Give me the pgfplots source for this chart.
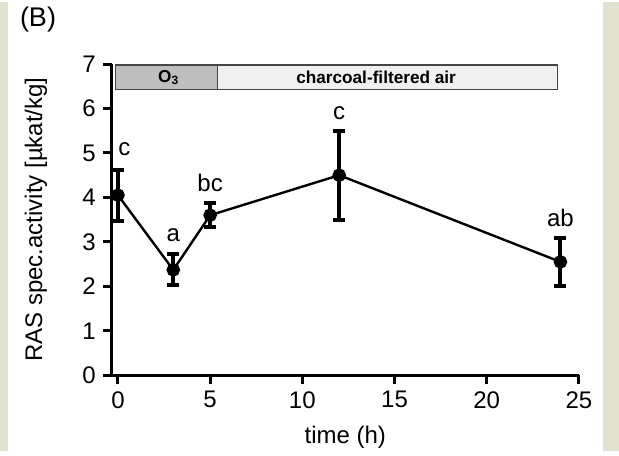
\documentclass[border=0pt]{standalone}
\usepackage{pgfplots}
\pgfplotsset{compat=1.18}
\usepackage{fontspec}
\setmainfont{Liberation Sans}
\definecolor{paper}{RGB}{226,226,208}
\definecolor{ozone}{RGB}{190,190,190}
\definecolor{filtered}{RGB}{240,240,240}
\definecolor{edge}{RGB}{70,70,70}
\begin{document}
\begin{tikzpicture}
% page: textured strips left and right, white plot sheet
\fill[paper] (0,0) rectangle (309.5pt,224.5pt);
\fill[white] (4pt,0) rectangle (301.5pt,224.5pt);
\node[font=\fontsize{13.5}{15}\selectfont] at (19pt,216pt) {(B)};
\begin{axis}[
    at={(55.85pt,38pt)}, anchor=south west,
    scale only axis, width=233.6pt, height=155.6pt,
    xmin=-0.34, xmax=25, ymin=0, ymax=7,
    axis lines*=left,
    axis line style={line width=1.5pt,-},
    tick style={line width=1.5pt,black},
    tick align=outside,
    major tick length=4.5pt,
    xtick={0,5,...,25}, ytick={0,1,...,7},
    tick label style={font=\fontsize{12}{14}\selectfont},
    /pgf/number format/assume math mode=true,
    xlabel={time (h)},
    ylabel={RAS spec.activity [µkat/kg]},
    xlabel style={at={(axis description cs:0.5,-0.199)}, anchor=center,
        font=\fontsize{12}{14}\selectfont},
    ylabel style={at={(axis description cs:-0.162,0.5)}, rotate=0, anchor=center,
        font=\fontsize{12}{14}\selectfont},
    clip=false,
]
% treatment band
\addplot[fill=ozone, draw=edge, line width=0.7pt] coordinates
    {(-0.15,6.43) (5.4,6.43) (5.4,6.98) (-0.15,6.98)} -- cycle;
\addplot[fill=filtered, draw=edge, line width=0.7pt] coordinates
    {(5.4,6.43) (23.85,6.43) (23.85,6.98) (5.4,6.98)} -- cycle;
\node[font=\bfseries\fontsize{8.6}{10}\selectfont] at (axis cs:2.75,6.69) {O\textsubscript{3}};
\node[font=\bfseries\fontsize{8.6}{10}\selectfont] at (axis cs:14.0,6.69) {charcoal-filtered air};

% mean +- error
\addplot[black, line width=1.2pt, mark=*, mark size=2.8pt,
    error bars/.cd, y dir=both, y explicit,
    error bar style={line width=2pt},
    error mark options={rotate=90, mark size=3pt, line width=2pt}]
    coordinates {
    (0,4.05) +- (0,0.57)
    (3,2.37) +- (0,0.35)
    (5,3.60) +- (0,0.27)
    (12,4.50) +- (0,1.00)
    (24,2.55) +- (0,0.54)
    };

\begin{scope}[font=\fontsize{12}{14}\selectfont]
\node at (axis cs:0.35,5.09) {c};
\node at (axis cs:3,3.16) {a};
\node at (axis cs:5,4.33) {bc};
\node at (axis cs:12,5.89) {c};
\node at (axis cs:24,3.53) {ab};
\end{scope}
\end{axis}
\end{tikzpicture}
\end{document}
